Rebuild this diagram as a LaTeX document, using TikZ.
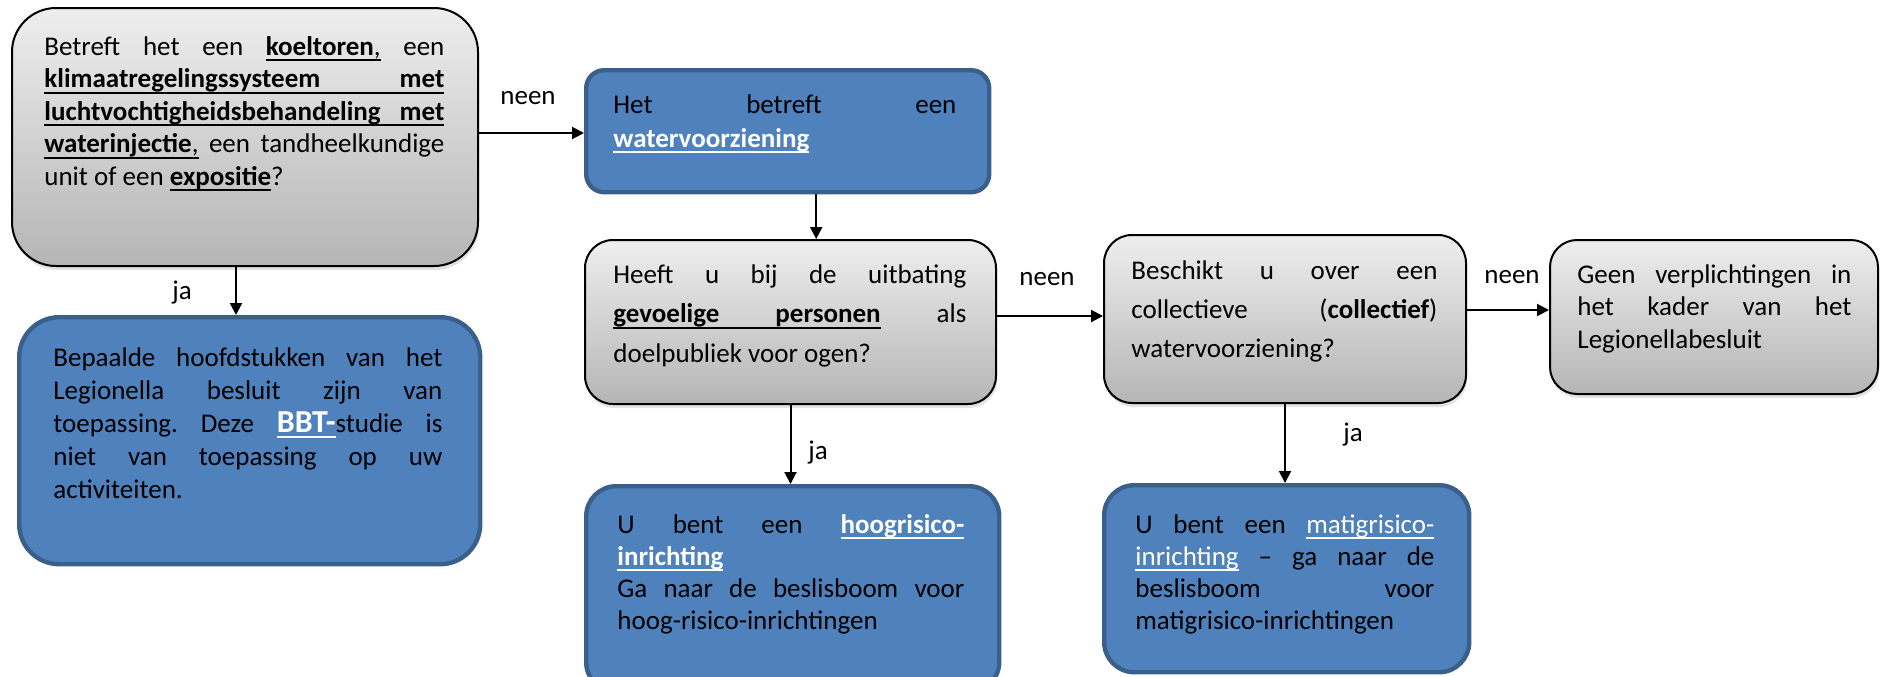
\documentclass[tikz,border=0pt]{standalone}
\usepackage{fontspec}
\setmainfont{Carlito}
\usetikzlibrary{arrows.meta,shadows}
\definecolor{bluefill}{HTML}{4F81BD}
\definecolor{blueline}{HTML}{3A5F8B}
\definecolor{graytop}{HTML}{EEEEEE}
\definecolor{graybot}{HTML}{B5B5B5}
\newsavebox\ulbox
\newcommand\ul[1]{\sbox\ulbox{#1}\rlap{\rule[-3pt]{\wd\ulbox}{1pt}}\usebox\ulbox}
\newcommand\ulgap{\leaders\vrule height -2pt depth 3pt\hfill}
\newcommand\jl[1]{\hbox to\linewidth{#1}}
\newcommand\nl[1]{\hbox{#1}}
\newcommand\txt[3]{\parbox[t]{#1}{\fontsize{13.5}{#2}\selectfont #3}}
\tikzset{
  graybox/.style={draw=black, line width=1pt, top color=graytop, bottom color=graybot,
    drop shadow={opacity=0.22, shadow xshift=0.6pt, shadow yshift=-2pt},
    inner sep=0pt, anchor=north west},
  bluebox/.style={draw=blueline, line width=2.2pt, fill=bluefill, inner sep=0pt, anchor=north west},
  boxtext/.style={inner sep=0pt, anchor=base west, text=black},
  arr/.style={line width=1pt, -{Triangle[length=6pt,width=6pt]}},
  lbl/.style={inner sep=0pt, font=\fontsize{13.5}{16}\selectfont}
}
\begin{document}
\begin{tikzpicture}[x=0.5pt,y=-0.5pt]
\clip (0,0) rectangle (1880,676);
% boxes
\node[graybox, rounded corners=22pt, minimum width=233pt, minimum height=129pt] (b1) at (11,7) {};
\node[bluebox, rounded corners=20pt, minimum width=230.5pt, minimum height=123.5pt] (b2) at (17,315) {};
\node[bluebox, rounded corners=9pt, minimum width=201.5pt, minimum height=61pt] (b3) at (584,68) {};
\node[graybox, rounded corners=14pt, minimum width=205.5pt, minimum height=82pt] (b4) at (584,239) {};
\node[bluebox, rounded corners=15pt, minimum width=206.5pt, minimum height=103pt] (b5) at (584,484) {};
\node[graybox, rounded corners=14pt, minimum width=181pt, minimum height=84pt] (b6) at (1103,234) {};
\node[graybox, rounded corners=13.5pt, minimum width=164pt, minimum height=77pt] (b7) at (1549,239) {};
\node[bluebox, rounded corners=15pt, minimum width=182.5pt, minimum height=93.5pt] (b8) at (1102,483) {};
% texts
\node[boxtext] (t1) at (44,55) {\txt{200pt}{16.25pt}{%
\jl{Betreft\hfill het\hfill een\hfill \ul{\textbf{koeltoren},}\hfill een}
\jl{\ul{\textbf{klimaatregelingssysteem}}\ulgap\ul{\textbf{met}}}
\jl{\ul{\textbf{luchtvochtigheidsbehandeling}}\ulgap\ul{\textbf{met}}}
\jl{\ul{\textbf{waterinjectie},}\hfill een\hfill tandheelkundige}
\nl{unit of een \ul{\textbf{expositie}}?}}};
\node[boxtext] (t2) at (53,366) {\txt{194.5pt}{16.5pt}{%
\jl{Bepaalde\hfill hoofdstukken\hfill van\hfill het}
\jl{Legionella\hfill besluit\hfill zijn\hfill van}
\jl{toepassing.\hfill Deze\hfill {\color{white}\ul{\fontsize{16}{16}\selectfont\bfseries BBT-}}studie\hfill is}
\jl{niet\hfill van\hfill toepassing\hfill op\hfill uw}
\nl{activiteiten.}}};
\node[boxtext] (t3) at (613,113) {\txt{171.5pt}{17pt}{%
\jl{Het\hfill betreft\hfill een}
\nl{\color{white}\ul{\textbf{watervoorziening}}}}};
\node[boxtext] (t4) at (613,283) {\txt{176.5pt}{19.75pt}{%
\jl{Heeft\hfill u\hfill bij\hfill de\hfill uitbating}
\jl{\ul{\textbf{gevoelige}}\ulgap\ul{\textbf{personen}}\hfill als}
\nl{doelpubliek voor ogen?}}};
\node[boxtext] (t5) at (617,533) {\txt{173.5pt}{16pt}{%
\jl{U\hfill bent\hfill een\hfill {\color{white}\ul{\textbf{hoogrisico-}}}}
\nl{\color{white}\ul{\textbf{inrichting}}}
\jl{Ga\hfill naar\hfill de\hfill beslisboom\hfill voor}
\nl{hoog-risico-inrichtingen}}};
\node[boxtext] (t6) at (1131,279) {\txt{153pt}{19.5pt}{%
\jl{Beschikt\hfill u\hfill over\hfill een}
\jl{collectieve\hfill (\textbf{collectief})}
\nl{watervoorziening?}}};
\node[boxtext] (t7) at (1577,283) {\txt{137pt}{16.25pt}{%
\jl{Geen\hfill verplichtingen\hfill in}
\jl{het\hfill kader\hfill van\hfill het}
\nl{Legionellabesluit}}};
\node[boxtext] (t8) at (1135,533) {\txt{149.5pt}{16pt}{%
\jl{U\hfill bent\hfill een\hfill {\color{white}\ul{matigrisico-}}}
\jl{{\color{white}\ul{inrichting}}\hfill –\hfill ga\hfill naar\hfill de}
\jl{beslisboom\hfill voor}
\nl{matigrisico-inrichtingen}}};
% connectors
\coordinate (a13) at ([yshift=2pt]b1.east);
\draw[arr] (a13) -- (a13 -| b3.west);
\coordinate (a12) at ([xshift=-4.5pt]b1.south);
\draw[arr] (a12) -- (a12 |- b2.north);
\coordinate (a34) at ([xshift=14.25pt]b3.south);
\draw[arr] (a34) -- (a34 |- b4.north);
\draw[arr] (b4.south) -- (b4.south |- b5.north);
\coordinate (a46) at ([yshift=3pt]b4.east);
\draw[arr] (a46) -- (a46 -| b6.west);
\coordinate (a67) at ([yshift=4.5pt]b6.east);
\draw[arr] (a67) -- (a67 -| b7.west);
\draw[arr] (b6.south) -- (b6.south |- b8.north);
% labels
\node[lbl] (l1) at (528,98) {neen};
\node[lbl] (l2) at (182,293) {ja};
\node[lbl] (l3) at (1047,279) {neen};
\node[lbl] (l4) at (818,453) {ja};
\node[lbl] (l5) at (1512,277) {neen};
\node[lbl] (l6) at (1353,435) {ja};
\end{tikzpicture}
\end{document}
